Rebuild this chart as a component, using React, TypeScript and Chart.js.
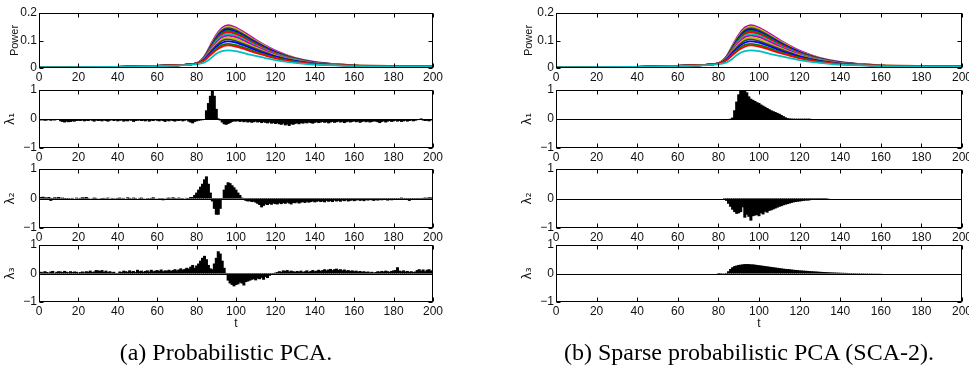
import React, { useEffect, useRef } from "react";
import { Chart, registerables } from "chart.js";
Chart.register(...registerables);

// ---------- data ----------
const X_TICK_VALUES = [0, 20, 40, 60, 80, 100, 120, 140, 160, 180, 200];
const POWER_TICK_VALUES = [0, 0.1, 0.2];
const POWER_TICK_LABELS = ["0", "0.1", "0.2"];
const LAMBDA_TICK_VALUES = [-1, 0, 1];
const LAMBDA_TICK_LABELS = ["\u22121", "0", "1"];
const Y_TITLES = ["Power", "\u03bb\u2081", "\u03bb\u2082", "\u03bb\u2083"];
const X_TITLE = "t";
const CAPTION_A = "(a) Probabilistic PCA.";
const CAPTION_B = "(b) Sparse probabilistic PCA (SCA-2).";

const T_GRID = [0, 40, 60, 70, 78, 81, 84, 87, 90, 93, 96, 100, 105, 110, 115, 120, 125, 130, 140, 150, 160, 180, 200];
const POWER_1 = [0.003,0.004,0.008,0.010,0.014,0.021,0.043,0.083,0.121,0.147,0.156,0.147,0.126,0.103,0.082,0.063,0.049,0.037,0.022,0.014,0.010,0.007,0.006];
const POWER_2 = [0.003,0.004,0.008,0.010,0.014,0.021,0.042,0.080,0.116,0.141,0.150,0.142,0.121,0.099,0.079,0.060,0.047,0.036,0.021,0.014,0.010,0.007,0.006];
const POWER_3 = [0.003,0.004,0.008,0.010,0.014,0.020,0.041,0.077,0.113,0.137,0.145,0.137,0.117,0.096,0.076,0.059,0.046,0.035,0.020,0.014,0.009,0.007,0.006];
const POWER_4 = [0.003,0.004,0.008,0.010,0.014,0.020,0.040,0.075,0.109,0.132,0.140,0.132,0.113,0.093,0.074,0.057,0.044,0.034,0.020,0.013,0.009,0.007,0.006];
const POWER_5 = [0.003,0.004,0.008,0.010,0.014,0.020,0.039,0.073,0.105,0.127,0.135,0.128,0.109,0.089,0.071,0.055,0.043,0.033,0.019,0.013,0.009,0.007,0.006];
const POWER_6 = [0.003,0.004,0.008,0.010,0.014,0.020,0.038,0.070,0.101,0.123,0.130,0.123,0.105,0.086,0.069,0.053,0.041,0.032,0.019,0.013,0.009,0.007,0.006];
const POWER_7 = [0.003,0.004,0.008,0.010,0.014,0.020,0.037,0.067,0.097,0.117,0.124,0.117,0.100,0.082,0.066,0.051,0.040,0.031,0.018,0.013,0.009,0.007,0.006];
const POWER_8 = [0.003,0.004,0.008,0.010,0.014,0.019,0.035,0.064,0.092,0.112,0.118,0.112,0.096,0.079,0.063,0.049,0.038,0.029,0.018,0.012,0.009,0.007,0.006];
const POWER_9 = [0.003,0.004,0.008,0.010,0.014,0.019,0.034,0.061,0.087,0.105,0.111,0.105,0.090,0.074,0.059,0.046,0.036,0.028,0.017,0.012,0.009,0.007,0.006];
const POWER_10 = [0.003,0.004,0.008,0.010,0.014,0.019,0.033,0.058,0.082,0.099,0.104,0.098,0.084,0.070,0.056,0.043,0.034,0.027,0.016,0.012,0.008,0.007,0.006];
const POWER_11 = [0.003,0.004,0.008,0.010,0.014,0.018,0.031,0.054,0.077,0.092,0.097,0.092,0.079,0.065,0.052,0.041,0.032,0.025,0.016,0.011,0.008,0.007,0.006];
const POWER_12 = [0.003,0.004,0.008,0.010,0.014,0.018,0.029,0.050,0.070,0.084,0.088,0.083,0.072,0.059,0.048,0.038,0.030,0.023,0.015,0.011,0.008,0.006,0.006];
const POWER_13 = [0.003,0.004,0.008,0.010,0.014,0.018,0.028,0.047,0.065,0.078,0.082,0.078,0.067,0.055,0.045,0.035,0.028,0.022,0.014,0.011,0.008,0.006,0.006];
const POWER_14 = [0.003,0.004,0.007,0.009,0.012,0.015,0.020,0.034,0.052,0.061,0.064,0.061,0.052,0.044,0.036,0.029,0.023,0.019,0.012,0.010,0.007,0.006,0.006];
const POWER_SERIES = [POWER_1, POWER_2, POWER_3, POWER_4, POWER_5, POWER_6, POWER_7, POWER_8, POWER_9, POWER_10, POWER_11, POWER_12, POWER_13, POWER_14];
const LINE_COLORS = ["#bf00bf", "#bfbf00", "#404040", "#0000ff", "#008000", "#ff0000", "#00bfbf"];

// t = 1..200
const PCA_L1 = [
-0.05,-0.04,-0.06,-0.05,-0.03,-0.06,-0.04,-0.05,-0.02,-0.03,
-0.08,-0.10,-0.12,-0.09,-0.11,-0.10,-0.08,-0.09,-0.07,-0.06,
-0.07,-0.05,-0.08,-0.06,-0.07,-0.04,-0.06,-0.09,-0.05,-0.07,
-0.06,-0.08,-0.05,-0.07,-0.09,-0.06,-0.04,-0.07,-0.05,-0.08,
-0.06,-0.05,-0.09,-0.07,-0.08,-0.05,-0.06,-0.10,-0.07,-0.06,
-0.05,-0.07,-0.06,-0.08,-0.05,-0.09,-0.06,-0.07,-0.04,-0.06,
-0.08,-0.05,-0.07,-0.10,-0.06,-0.08,-0.05,-0.07,-0.09,-0.06,
-0.07,-0.05,-0.08,-0.06,-0.04,-0.09,-0.12,-0.15,-0.10,-0.08,
-0.06,-0.05,-0.04,-0.03,0.30,0.55,0.80,1.00,0.80,0.35,
0.02,-0.05,-0.12,-0.18,-0.20,-0.17,-0.14,-0.10,-0.08,-0.09,
-0.07,-0.10,-0.08,-0.11,-0.09,-0.12,-0.10,-0.13,-0.11,-0.09,
-0.12,-0.10,-0.14,-0.11,-0.13,-0.15,-0.12,-0.16,-0.14,-0.17,
-0.15,-0.18,-0.20,-0.16,-0.22,-0.19,-0.24,-0.18,-0.20,-0.17,
-0.15,-0.18,-0.14,-0.16,-0.13,-0.15,-0.12,-0.14,-0.16,-0.13,
-0.11,-0.14,-0.12,-0.10,-0.13,-0.11,-0.15,-0.12,-0.10,-0.13,
-0.11,-0.09,-0.12,-0.10,-0.14,-0.11,-0.09,-0.12,-0.10,-0.08,
-0.11,-0.09,-0.13,-0.10,-0.08,-0.11,-0.09,-0.12,-0.10,-0.08,
-0.09,-0.11,-0.14,-0.10,-0.08,-0.12,-0.09,-0.07,-0.10,-0.08,
-0.06,-0.09,-0.07,-0.10,-0.08,-0.06,-0.09,-0.07,-0.05,-0.08,
-0.06,-0.04,-0.02,0.02,-0.05,-0.07,-0.06,-0.08,-0.05,-0.03];

const PCA_L2 = [
0.05,0.06,0.04,0.03,0.05,-0.08,0.02,0.04,0.03,0.05,
0.02,0.03,-0.02,-0.03,-0.04,0.01,0.02,0.00,0.03,0.01,
0.02,0.04,0.03,0.05,0.02,0.00,0.01,0.03,0.02,0.00,
0.01,-0.02,0.02,0.01,0.03,0.00,0.02,0.01,-0.01,0.02,
0.03,0.01,0.02,0.00,0.04,0.02,0.01,0.03,0.02,0.00,
0.02,0.03,0.01,0.00,-0.03,0.01,0.02,0.04,0.01,0.00,
-0.02,0.01,-0.06,0.00,0.02,0.03,0.01,0.04,0.02,0.01,
0.03,0.01,-0.02,0.00,0.02,-0.03,0.05,0.05,0.12,0.20,
0.30,0.40,0.50,0.65,0.75,0.50,0.20,-0.10,-0.35,-0.55,
-0.55,-0.35,-0.05,0.30,0.45,0.55,0.52,0.45,0.38,0.30,
0.20,0.12,0.03,-0.05,-0.08,-0.10,-0.09,-0.12,-0.11,-0.14,
-0.18,-0.22,-0.30,-0.25,-0.20,-0.22,-0.18,-0.21,-0.17,-0.19,
-0.20,-0.16,-0.19,-0.15,-0.18,-0.14,-0.17,-0.20,-0.15,-0.16,
-0.13,-0.17,-0.14,-0.12,-0.15,-0.11,-0.14,-0.12,-0.10,-0.13,
-0.11,-0.09,-0.12,-0.10,-0.13,-0.08,-0.11,-0.09,-0.12,-0.07,
-0.10,-0.08,-0.11,-0.07,-0.09,-0.06,-0.10,-0.08,-0.06,-0.09,
-0.07,-0.05,-0.08,-0.06,-0.09,-0.05,-0.07,-0.04,-0.06,-0.08,
-0.05,-0.07,-0.04,-0.06,-0.03,-0.05,-0.07,-0.04,-0.06,-0.03,
-0.05,-0.02,-0.04,0.03,-0.03,-0.05,-0.02,-0.08,-0.04,-0.02,
-0.03,-0.05,-0.02,-0.04,0.02,0.03,0.02,0.04,0.03,0.04];

const PCA_L3 = [
0.06,0.04,0.08,0.05,0.03,0.07,0.09,0.02,0.06,0.08,
0.07,0.05,0.09,0.06,0.04,0.08,0.05,0.07,0.06,0.03,
0.05,0.07,0.04,0.08,0.06,0.10,0.05,0.07,0.12,0.11,
0.09,0.12,0.06,0.10,0.05,0.08,0.04,0.06,-0.03,0.02,
0.07,0.05,0.10,0.08,0.06,0.11,0.07,0.09,0.05,0.13,
0.08,0.10,0.06,0.09,0.11,0.07,0.13,0.08,0.10,0.12,
0.09,0.14,0.08,0.11,0.10,0.13,0.09,0.12,0.15,0.11,
0.14,0.18,0.13,0.16,0.20,0.17,0.24,0.30,0.20,0.28,
0.35,0.45,0.55,0.62,0.50,0.30,0.18,0.15,0.35,0.55,
0.78,0.70,0.45,0.20,0.02,-0.25,-0.35,-0.40,-0.45,-0.40,
-0.38,-0.32,-0.35,-0.42,-0.30,-0.28,-0.25,-0.22,-0.20,-0.24,
-0.18,-0.20,-0.15,-0.22,-0.12,-0.16,-0.08,-0.05,-0.02,0.03,
0.05,0.08,0.06,0.11,0.09,0.12,0.07,0.10,0.08,0.06,
0.09,0.07,0.10,0.05,0.08,0.11,0.06,0.09,0.12,0.08,
0.10,0.13,0.09,0.12,0.15,0.11,0.14,0.16,0.12,0.15,
0.17,0.13,0.15,0.11,0.14,0.10,0.12,0.09,0.11,0.08,
0.10,0.07,0.09,0.06,0.08,0.05,0.07,0.04,0.06,0.03,
0.05,0.08,0.06,0.09,0.07,0.10,0.08,0.06,0.09,0.11,
0.12,0.22,0.10,0.08,0.11,0.07,0.09,0.06,0.08,0.05,
0.07,0.12,0.15,0.10,0.14,0.08,0.13,0.15,0.10,0.12];

// Sparse components: non-zero segment starting at t = START, zero elsewhere
const SPCA_L1_START = 86;
const SPCA_L1_SEGMENT = [0.01,0.05,0.30,0.60,0.85,1.00,0.97,1.00,0.92,0.78,0.70,0.66,0.62,0.58,0.55,0.50,0.46,0.42,0.38,0.34,0.30,0.27,0.24,0.21,0.18,0.14,0.10,0.06,0.03,0.02,0.015,0.01,0.01,0.01,0.01,0.01,0.01,0.01,0.01,0.01];
const SPCA_L2_START = 83;
const SPCA_L2_SEGMENT = [-0.02,-0.08,-0.18,-0.28,-0.38,-0.46,-0.52,-0.50,-0.46,-0.30,-0.65,-0.55,-0.62,-0.75,-0.60,-0.58,-0.56,-0.60,-0.50,-0.54,-0.45,-0.48,-0.42,-0.40,-0.37,-0.34,-0.31,-0.28,-0.26,-0.23,-0.21,-0.19,-0.17,-0.15,-0.13,-0.12,-0.11,-0.10,-0.09,-0.08,-0.07,-0.07,-0.06,-0.05,-0.05,-0.04,-0.04,-0.03,-0.03,-0.02,-0.02,-0.01];
const SPCA_L3_START = 80;
const SPCA_L3_SEGMENT = [-0.02,-0.02,-0.01,-0.01,0.02,0.08,0.16,0.22,0.26,0.28,0.30,0.31,0.32,0.33,0.33,0.33,0.32,0.32,0.31,0.30,0.29,0.28,0.27,0.26,0.25,0.24,0.23,0.22,0.21,0.20,0.19,0.18,0.17,0.16,0.155,0.15,0.14,0.13,0.125,0.12,0.11,0.105,0.10,0.095,0.09,0.085,0.08,0.075,0.07,0.065,0.06,0.056,0.052,0.048,0.044,0.04,0.037,0.034,0.031,0.028,0.026,0.024,0.022,0.02,0.018,0.016,0.015,0.014,0.013,0.012,0.011,0.01,0.01,0.009,0.008,0.008,0.007,0.006,0.006,0.005,0.005];

function fullSeries(start: number, seg: number[]): number[] {
  const out: number[] = [];
  for (let t = 1; t <= 200; t++) {
    const k = t - start;
    out.push(k >= 0 && k < seg.length ? seg[k] : 0);
  }
  return out;
}
const SPCA_L1 = fullSeries(SPCA_L1_START, SPCA_L1_SEGMENT);
const SPCA_L2 = fullSeries(SPCA_L2_START, SPCA_L2_SEGMENT);
const SPCA_L3 = fullSeries(SPCA_L3_START, SPCA_L3_SEGMENT);

// ---------- drawing ----------
const TICK_FONT = { family: '"Liberation Sans Narrow", "Arial Narrow", "Liberation Sans", Arial, sans-serif', size: 12 };
const TEXT_COLOR = "#111";

const framePlugin = {
  id: "frame",
  afterDatasetsDraw(chart: any, _args: any, opts: any) {
    const { ctx, chartArea: a, scales } = chart;
    const xs = scales.x, ys = scales.y;
    const L = Math.round(a.left) + 0.5, R = Math.round(a.right) - 0.5;
    const T = Math.round(a.top) + 0.5, B = Math.round(a.bottom) - 0.5;
    ctx.save();
    ctx.strokeStyle = "#000";
    ctx.lineWidth = 1;
    ctx.beginPath();
    if (opts && opts.baseline) {
      const y0 = Math.round(ys.getPixelForValue(0)) + 0.5;
      ctx.moveTo(L, y0);
      ctx.lineTo(R, y0);
    }
    const tl = 4;
    xs.ticks.forEach((t: any) => {
      const px = Math.round(xs.getPixelForValue(t.value)) + 0.5;
      ctx.moveTo(px, B); ctx.lineTo(px, B - tl);
      ctx.moveTo(px, T); ctx.lineTo(px, T + tl);
    });
    ys.ticks.forEach((t: any) => {
      const py = Math.round(ys.getPixelForValue(t.value)) + 0.5;
      ctx.moveTo(L, py); ctx.lineTo(L + tl, py);
      ctx.moveTo(R, py); ctx.lineTo(R - tl, py);
    });
    ctx.stroke();
    ctx.strokeRect(L, T, R - L, B - T);
    ctx.restore();
  },
};

type PanelProps = {
  kind: "power" | "bar";
  values?: number[];
  px: number; py: number; pw: number; ph: number;
  yTitle: string; titlePad: number;
  xTitle?: string;
};

function Panel(p: PanelProps) {
  const ref = useRef<HTMLCanvasElement>(null);
  const YW = 39, PT = 10, PR = 12;
  const XH = p.xTitle ? 32 : 18;
  const cw = p.pw + YW + PR;
  const ch = PT + p.ph + XH;
  useEffect(() => {
    const canvas = ref.current!;
    const isPower = p.kind === "power";
    const n = POWER_SERIES.length;
    const datasets: any[] = isPower
      ? POWER_SERIES.map((arr, i) => ({
          type: "line",
          data: T_GRID.map((t, j) => ({ x: t, y: arr[j] })),
          borderColor: LINE_COLORS[i % LINE_COLORS.length],
          borderWidth: 1.8,
          pointRadius: 0,
          cubicInterpolationMode: "monotone",
          fill: false,
          order: n - i,
        }))
      : [{
          type: "bar",
          data: (p.values || []).map((v, i) => ({ x: i + 1, y: v })),
          backgroundColor: "#000",
          borderWidth: 0,
          barThickness: 3,
          inflateAmount: 0,
        }];
    const yVals = isPower ? POWER_TICK_VALUES : LAMBDA_TICK_VALUES;
    const yLabels = isPower ? POWER_TICK_LABELS : LAMBDA_TICK_LABELS;
    const chart = new Chart(canvas, {
      type: isPower ? "line" : "bar",
      data: { datasets },
      options: {
        animation: false,
        responsive: false,
        maintainAspectRatio: false,
        devicePixelRatio: 1,
        events: [],
        layout: { padding: { left: 0, right: PR, top: PT, bottom: 0 } },
        plugins: {
          legend: { display: false },
          tooltip: { enabled: false },
          // @ts-ignore
          frame: { baseline: !isPower },
        },
        scales: {
          x: {
            type: "linear",
            min: 0, max: 200,
            offset: false,
            grid: { display: false, drawTicks: false, offset: false },
            border: { display: false },
            afterBuildTicks: (s: any) => { s.ticks = X_TICK_VALUES.map((v) => ({ value: v })); },
            afterFit: (s: any) => { s.height = XH; },
            ticks: { font: TICK_FONT, color: TEXT_COLOR, padding: 2, maxRotation: 0, autoSkip: false, callback: (v: any) => String(v) },
            title: p.xTitle
              ? { display: true, text: p.xTitle, font: { family: '"Liberation Sans", Arial, sans-serif', size: 12 }, color: TEXT_COLOR, padding: { top: 0, bottom: 3 } }
              : { display: false },
          },
          y: {
            type: "linear",
            min: yVals[0], max: yVals[yVals.length - 1],
            grid: { display: false, drawTicks: false },
            border: { display: false },
            afterBuildTicks: (s: any) => { s.ticks = yVals.map((v) => ({ value: v })); },
            afterFit: (s: any) => { s.width = YW; },
            ticks: { font: TICK_FONT, color: TEXT_COLOR, padding: 2, autoSkip: false, callback: (_v: any, i: number) => yLabels[i] },
            title: {
              display: true,
              text: p.yTitle,
              font: isPower
                ? { family: '"Liberation Sans", Arial, sans-serif', size: 11 }
                : { family: '"DejaVu Sans", sans-serif', size: 12 },
              color: TEXT_COLOR,
              padding: { top: p.titlePad, bottom: 0 },
            },
          },
        },
      } as any,
      plugins: [framePlugin],
    } as any);
    return () => chart.destroy();
  }, []);
  return (
    <canvas
      ref={ref}
      width={cw}
      height={ch}
      style={{ position: "absolute", left: p.px - YW, top: p.py - PT, width: cw, height: ch }}
    />
  );
}

const COLS = [
  { px: 39, pw: 394, padPower: 8, padLambda: 4 },
  { px: 556, pw: 406, padPower: 5, padLambda: 4 },
];
const ROWS = [
  { py: 13, ph: 55 },
  { py: 90, ph: 58 },
  { py: 169, ph: 59 },
  { py: 245, ph: 57 },
];

export default function App() {
  const columns = [
    [null, PCA_L1, PCA_L2, PCA_L3],
    [null, SPCA_L1, SPCA_L2, SPCA_L3],
  ];
  const panels: any[] = [];
  COLS.forEach((c, ci) => {
    ROWS.forEach((r, ri) => {
      const vals = columns[ci][ri];
      panels.push(
        <Panel
          key={ci + "-" + ri}
          kind={ri === 0 ? "power" : "bar"}
          values={vals || undefined}
          px={c.px} py={r.py} pw={c.pw} ph={r.ph}
          yTitle={Y_TITLES[ri]}
          titlePad={ri === 0 ? c.padPower : c.padLambda}
          xTitle={ri === 3 ? X_TITLE : undefined}
        />
      );
    });
  });
  const capStyle: React.CSSProperties = {
    position: "absolute",
    top: 339,
    textAlign: "center",
    fontFamily: '"Liberation Serif", "Times New Roman", serif',
    fontSize: 24,
    lineHeight: "26px",
    color: "#000",
    whiteSpace: "nowrap",
  };
  return (
    <div style={{ position: "absolute", left: 0, top: 0, width: 969, height: 375, background: "#fff", overflow: "hidden" }}>
      {panels}
      <div style={{ ...capStyle, left: 4, width: 444 }}>{CAPTION_A}</div>
      <div style={{ ...capStyle, left: 549, width: 400 }}>{CAPTION_B}</div>
    </div>
  );
}
